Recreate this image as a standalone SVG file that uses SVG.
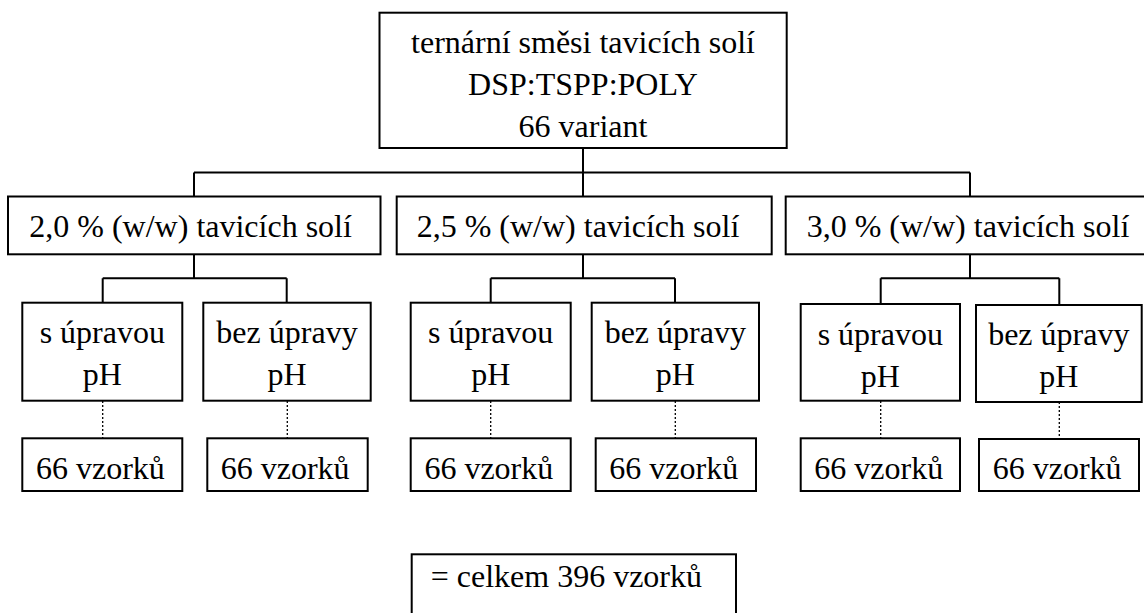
<svg xmlns="http://www.w3.org/2000/svg" width="1144" height="613" viewBox="0 0 1144 613">
<style>
.b{fill:#fff;stroke:#000;stroke-width:2}
.ln{fill:none;stroke:#000;stroke-width:2}
.dot{fill:none;stroke:#000;stroke-width:1.3;stroke-dasharray:2 2}
</style>
<rect width="1144" height="613" style="fill:#fff;stroke:none"/>
<g id="connectors">
<path class="ln" d="M583 148V196.5M194 172.5H970M194 172.5V196.5M970 172.5V196.5"/>
<path class="ln" d="M194 254.3V278.3M102.7 278.3H286.7M102.7 278.3V302.7M286.7 278.3V302.7"/>
<path class="ln" d="M583 254.3V278.3M490.7 278.3H675M490.7 278.3V302.7M675 278.3V302.7"/>
<path class="ln" d="M970 254.3V278.3M880.7 278.3H1059.3M880.7 278.3V304M1059.3 278.3V305"/>
<path class="dot" d="M102.7 401V438M287.3 401V438M490.7 401V438M675.3 401V438M880.7 401V438M1059.3 402V438"/>
</g>
<g id="root"><rect class="b" x="379.5" y="12.7" width="407.2" height="135.3"/>
<text font-family="Liberation Serif" font-size="32" text-anchor="middle" x="583" y="53">ternární směsi tavicích solí</text>
<text font-family="Liberation Serif" font-size="32" text-anchor="middle" x="583" y="95">DSP:TSPP:POLY</text>
<text font-family="Liberation Serif" font-size="32" text-anchor="middle" x="583" y="137">66 variant</text></g>
<g id="c20"><rect class="b" x="8" y="196.5" width="372.5" height="57.8"/><text font-family="Liberation Serif" font-size="32" x="29.3" y="237">2,0 % (w/w) tavicích solí</text></g>
<g id="c25"><rect class="b" x="396.7" y="196.5" width="375" height="57.8"/><text font-family="Liberation Serif" font-size="32" x="416.7" y="237">2,5 % (w/w) tavicích solí</text></g>
<g id="c30"><rect class="b" x="785.7" y="196.5" width="370" height="57.8"/><text font-family="Liberation Serif" font-size="32" x="806.7" y="237">3,0 % (w/w) tavicích solí</text></g>
<g id="s20a"><rect class="b" x="22.3" y="302.7" width="160" height="98"/><text font-family="Liberation Serif" font-size="32" text-anchor="middle" x="102.3" y="343">s úpravou</text><text font-family="Liberation Serif" font-size="32" text-anchor="middle" x="102.3" y="385">pH</text></g>
<g id="s20b"><rect class="b" x="203.3" y="302.7" width="167.4" height="98"/><text font-family="Liberation Serif" font-size="32" text-anchor="middle" x="287" y="343">bez úpravy</text><text font-family="Liberation Serif" font-size="32" text-anchor="middle" x="287" y="385">pH</text></g>
<g id="s25a"><rect class="b" x="410.7" y="302.7" width="160" height="98"/><text font-family="Liberation Serif" font-size="32" text-anchor="middle" x="490.7" y="343">s úpravou</text><text font-family="Liberation Serif" font-size="32" text-anchor="middle" x="490.7" y="385">pH</text></g>
<g id="s25b"><rect class="b" x="591.7" y="302.7" width="167.3" height="98"/><text font-family="Liberation Serif" font-size="32" text-anchor="middle" x="675.3" y="343">bez úpravy</text><text font-family="Liberation Serif" font-size="32" text-anchor="middle" x="675.3" y="385">pH</text></g>
<g id="s30a"><rect class="b" x="800.7" y="304" width="159.3" height="96.7"/><text font-family="Liberation Serif" font-size="32" text-anchor="middle" x="880.3" y="345">s úpravou</text><text font-family="Liberation Serif" font-size="32" text-anchor="middle" x="880.3" y="387">pH</text></g>
<g id="s30b"><rect class="b" x="976" y="305" width="165.7" height="97"/><text font-family="Liberation Serif" font-size="32" text-anchor="middle" x="1058.8" y="345">bez úpravy</text><text font-family="Liberation Serif" font-size="32" text-anchor="middle" x="1058.8" y="387">pH</text></g>
<g id="n1"><rect class="b" x="22.3" y="438.3" width="160" height="52.7"/><text font-family="Liberation Serif" font-size="32" x="36" y="479">66 vzorků</text></g>
<g id="n2"><rect class="b" x="207.3" y="438.3" width="160.4" height="52.7"/><text font-family="Liberation Serif" font-size="32" x="220.7" y="479">66 vzorků</text></g>
<g id="n3"><rect class="b" x="410.7" y="438.3" width="160" height="52.7"/><text font-family="Liberation Serif" font-size="32" x="424.4" y="479">66 vzorků</text></g>
<g id="n4"><rect class="b" x="595.7" y="438.3" width="160.3" height="52.7"/><text font-family="Liberation Serif" font-size="32" x="609.3" y="479">66 vzorků</text></g>
<g id="n5"><rect class="b" x="800.7" y="438.3" width="159.3" height="52.7"/><text font-family="Liberation Serif" font-size="32" x="814.3" y="479">66 vzorků</text></g>
<g id="n6"><rect class="b" x="979" y="439" width="160" height="52"/><text font-family="Liberation Serif" font-size="32" x="992.7" y="479">66 vzorků</text></g>
<g id="total"><rect class="b" x="411.7" y="554.3" width="324.3" height="70"/><text font-family="Liberation Serif" font-size="32" x="430.7" y="587">= celkem 396 vzorků</text></g>
</svg>
